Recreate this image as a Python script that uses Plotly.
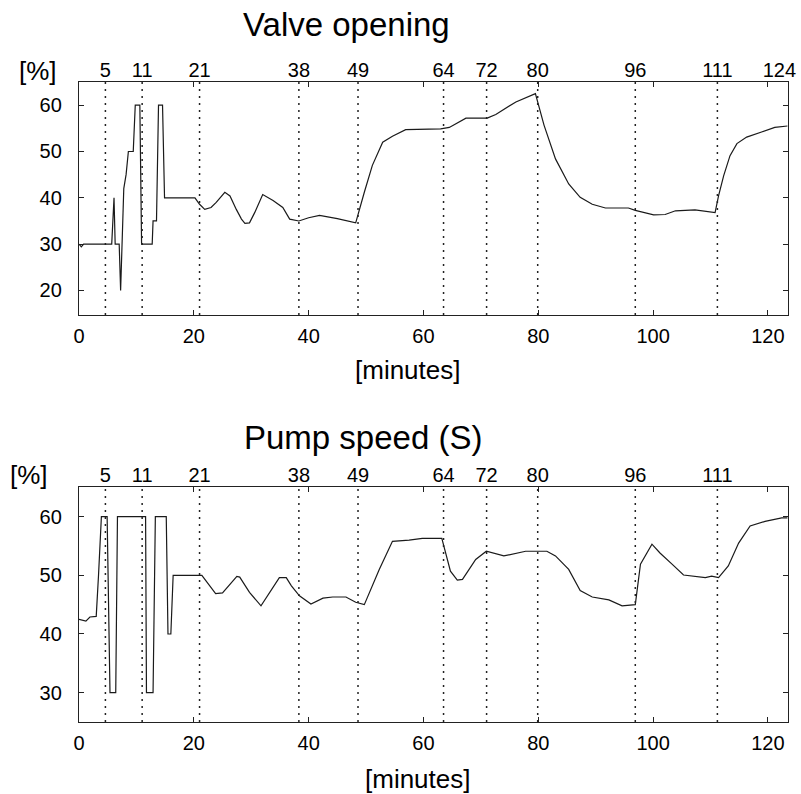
import plotly.graph_objects as go

# ---------------- data ----------------
valve_t = [0, 0.4, 0.8, 5.7, 6.1, 6.3, 7.0, 7.25, 7.8, 8.2, 8.6, 9.45, 9.8, 10.6, 10.9,
           12.75, 12.9, 13.5, 13.85, 14.55, 14.9, 20.2, 21.0, 21.9, 23.0, 23.9, 25.4,
           26.3, 27.4, 28.3, 28.9, 29.7, 30.6, 31.5, 32.0, 33.8, 35.5, 36.7, 38.3, 40.0,
           41.9, 45.0, 48.2, 49.7, 51.1, 52.9, 54.6, 56.9, 60.0, 63.0, 64.5, 67.4, 71.1,
           72.6, 76.1, 79.5, 81.0, 83.0, 85.3, 87.3, 89.4, 91.7, 95.7, 96.9, 100.1,
           102.1, 103.9, 107.3, 110.8, 111.4, 112.3, 113.4, 114.6, 116.3, 118.9, 121.2,
           123.4]
valve_v = [30, 29.4, 30, 30, 40, 30, 30, 20, 42, 45, 50, 50, 60, 60, 30,
           30, 35, 35, 60, 60, 40, 40, 38.6, 37.5, 37.9, 39, 41.2,
           40.4, 37.5, 35.4, 34.5, 34.6, 36.8, 39.3, 40.7, 39.4, 37.9, 35.4, 35.0, 35.7,
           36.2, 35.5, 34.6, 41.2, 47, 52, 53.3, 54.7, 54.8, 54.9, 55.2, 57.2, 57.2,
           58, 60.7, 62.5, 55.7, 48.4, 43, 40.1, 38.6, 37.8, 37.8, 37.3, 36.3,
           36.4, 37.2, 37.4, 36.8, 40.4, 44.8, 49.1, 51.7, 53.1, 54.2, 55.2,
           55.5]

pump_t = [0, 1.2, 1.9, 3.0, 3.4, 3.9, 4.9, 5.1, 5.4, 6.4, 6.7, 11.6, 11.75, 12.9, 13.3,
          15.2, 15.5, 16.0, 16.4, 21.4, 23.8, 25.0, 27.5, 28.0, 29.7, 31.7, 33.2, 34.9,
          36.1, 37.0, 38.4, 40.4, 42.5, 44.2, 46.5, 48.2, 49.7, 52.3, 54.6, 57.5, 59.8,
          63.2, 64.7, 65.9, 66.8, 69.1, 70.95, 74.0, 77.8, 81.5, 83.0, 85.3, 87.3, 89.4,
          92.3, 94.6, 96.9, 97.8, 99.8, 101.2, 103.3, 105.3, 109.1, 110.2, 111.4, 113.1,
          114.9, 116.9, 119.5, 122.4, 123.4]
pump_v = [42.5, 42.2, 42.9, 43, 50, 60, 60, 45, 30, 30, 60, 60, 30, 30, 60,
          60, 40, 40, 50, 50, 46.9, 47, 49.8, 49.7, 47.1, 44.8, 47.1, 49.6,
          49.6, 48.2, 46.5, 45.1, 46.1, 46.3, 46.3, 45.4, 45.0, 51.0, 55.8, 56.0, 56.3,
          56.3, 50.7, 49.2, 49.3, 52.7, 54.1, 53.3, 54.1, 54.1, 53.3, 51, 47.4, 46.3,
          45.8, 44.8, 45.0, 51.9, 55.3, 53.8, 51.9, 50.05, 49.6, 49.85, 49.6, 51.6,
          55.5, 58.4, 59.2, 59.8, 59.8]

event_times = [4.6, 11.0, 21.0, 38.3, 48.6, 63.5, 71.0, 79.9, 96.9, 111.2]
event_labels_top = ["5", "11", "21", "38", "49", "64", "72", "80", "96", "111", "124"]
event_labels_bottom = ["5", "11", "21", "38", "49", "64", "72", "80", "96", "111"]
end_label_time = 122.0

x_ticks = [0, 20, 40, 60, 80, 100, 120]
valve_yticks = [20, 30, 40, 50, 60]
pump_yticks = [30, 40, 50, 60]

titles = ["Valve opening", "Pump speed (S)"]
unit_label = "[%]"
x_label = "[minutes]"

# ---------------- figure ----------------
FONT = "Liberation Sans, Arial, sans-serif"
W, H = 801, 794
ML, MR, MT, MB = 79, 13, 82, 72
ph = H - MT - MB
pw = W - ML - MR


def fy(py):  # pixel y -> paper fraction
    return (H - MB - py) / ph


def fx(px):  # pixel x -> paper fraction
    return (px - ML) / pw


fig = go.Figure()
line_style = dict(color="#1a1a1a", width=1.2)
fig.add_trace(go.Scatter(x=valve_t, y=valve_v, mode="lines", line=line_style,
                         xaxis="x", yaxis="y", showlegend=False, hoverinfo="skip"))
fig.add_trace(go.Scatter(x=pump_t, y=pump_v, mode="lines", line=line_style,
                         xaxis="x2", yaxis="y2", showlegend=False, hoverinfo="skip"))
# invisible carriers for top label axes
fig.add_trace(go.Scatter(x=event_times, y=[None] * len(event_times), mode="lines",
                         xaxis="x3", yaxis="y", showlegend=False, hoverinfo="skip"))
fig.add_trace(go.Scatter(x=event_times, y=[None] * len(event_times), mode="lines",
                         xaxis="x4", yaxis="y2", showlegend=False, hoverinfo="skip"))

xr = [0, 123.5]
common_x = dict(range=xr, showline=True, linecolor="#222", linewidth=1.3, mirror="ticks",
                ticks="inside", ticklen=5, tickcolor="#222", tickvals=x_ticks,
                showgrid=False, zeroline=False, automargin=False, ticklabelstandoff=3,
                tickfont=dict(family=FONT, size=20, color="black"))
common_y = dict(showline=True, linecolor="#222", linewidth=1.3, mirror="ticks",
                ticks="inside", ticklen=5, tickcolor="#222", automargin=False,
                showgrid=False, zeroline=False, ticklabelstandoff=12,
                tickfont=dict(family=FONT, size=20, color="black"))
top_lab = dict(range=xr, side="top", showline=False, ticks="", showgrid=False,
               zeroline=False, ticklabelstandoff=0, automargin=False,
               tickfont=dict(family=FONT, size=20, color="black"))

d1 = [fy(315), fy(82)]
d2 = [fy(722), fy(487)]

fig.update_layout(
    width=W, height=H, margin=dict(l=ML, r=MR, t=MT, b=MB),
    paper_bgcolor="white", plot_bgcolor="white",
    xaxis=dict(common_x, anchor="y", domain=[0, 1]),
    yaxis=dict(common_y, anchor="x", domain=d1, range=[14.7, 65.0], tickvals=valve_yticks),
    xaxis2=dict(common_x, anchor="y2", domain=[0, 1]),
    yaxis2=dict(common_y, anchor="x2", domain=d2, range=[25.0, 65.05], tickvals=pump_yticks),
    xaxis3=dict(top_lab, overlaying="x", anchor="y",
                tickvals=event_times + [end_label_time], ticktext=event_labels_top),
    xaxis4=dict(top_lab, overlaying="x2", anchor="y2",
                tickvals=event_times, ticktext=event_labels_bottom),
)

shapes = []
for t in event_times:
    for xa, ya in (("x", "y"), ("x2", "y2")):
        shapes.append(dict(type="line", xref=xa, yref=ya + " domain", x0=t, x1=t, y0=0, y1=1,
                           line=dict(color="#222", width=1.5, dash="2px,5px")))
fig.update_layout(shapes=shapes)

title_font = dict(family=FONT, size=33, color="black")
lab_font = dict(family=FONT, size=26, color="black")
ann = [
    dict(text=titles[0], x=fx(346), y=fy(24), font=title_font),
    dict(text=titles[1], x=fx(363), y=fy(437), font=title_font),
    dict(text=unit_label, x=fx(38), y=fy(71), font=lab_font),
    dict(text=unit_label, x=fx(29), y=fy(475), font=lab_font),
    dict(text=x_label, x=fx(408), y=fy(370), font=lab_font),
    dict(text=x_label, x=fx(418), y=fy(779), font=lab_font),
]
for a in ann:
    a.update(xref="paper", yref="paper", showarrow=False, xanchor="center", yanchor="middle")
fig.update_layout(annotations=ann)

fig.write_html("out.html", config={"displayModeBar": False},
               post_script="document.body.style.margin='0px';document.body.style.overflow='hidden';")
